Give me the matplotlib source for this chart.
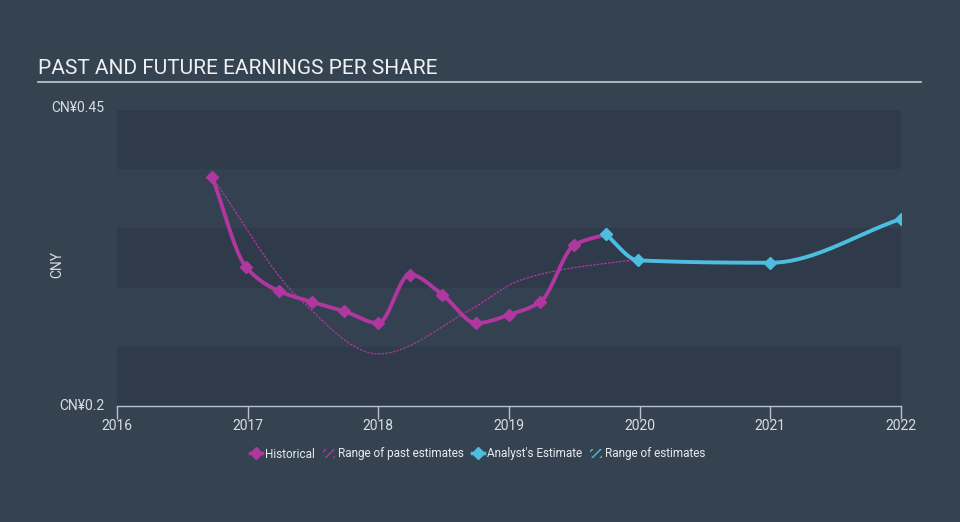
import numpy as np
import matplotlib
matplotlib.use("Agg")
import matplotlib.pyplot as plt
from matplotlib.lines import Line2D
from matplotlib.patches import Patch

plt.rcParams['font.family'] = ['Roboto', 'DejaVu Sans']
plt.rcParams['hatch.linewidth'] = 1.0

# data
hist_x = [2016.73, 2016.99, 2017.24, 2017.49, 2017.74, 2018.0, 2018.24,
          2018.49, 2018.75, 2019.0, 2019.24, 2019.5, 2019.74]
hist_y = [0.393, 0.317, 0.297, 0.288, 0.280, 0.270, 0.311,
          0.294, 0.270, 0.277, 0.288, 0.336, 0.345]
est_x = [2019.74, 2019.99, 2021.0, 2022.0]
est_y = [0.345, 0.323, 0.321, 0.358]
past_x = [2016.73, 2017.4, 2018.0, 2018.7, 2019.08, 2019.4, 2020.0]
past_y = [0.393, 0.290, 0.244, 0.281, 0.306, 0.315, 0.324]

x_ticks = [2016, 2017, 2018, 2019, 2020, 2021, 2022]

BG = '#354350'
MAG = '#b0379f'
CYAN = '#4dbde0'
TXT = '#d8dde3'


def smooth(x, y, n=40):
    # monotone cubic (Fritsch-Carlson) just for drawing the curve
    x = np.asarray(x, float)
    y = np.asarray(y, float)
    h = np.diff(x)
    d = np.diff(y) / h
    m = np.zeros_like(y)
    m[0], m[-1] = d[0], d[-1]
    for i in range(1, len(y) - 1):
        if d[i - 1] * d[i] <= 0:
            m[i] = 0
        else:
            w1 = 2 * h[i] + h[i - 1]
            w2 = h[i] + 2 * h[i - 1]
            m[i] = (w1 + w2) / (w1 / d[i - 1] + w2 / d[i])
    xs, ys = [], []
    for i in range(len(h)):
        t = np.linspace(0, 1, n)
        h00 = 2 * t**3 - 3 * t**2 + 1
        h10 = t**3 - 2 * t**2 + t
        h01 = -2 * t**3 + 3 * t**2
        h11 = t**3 - t**2
        xs.append(x[i] + t * h[i])
        ys.append(h00 * y[i] + h10 * h[i] * m[i] + h01 * y[i + 1] + h11 * h[i] * m[i + 1])
    return np.concatenate(xs), np.concatenate(ys)


fig = plt.figure(figsize=(9.6, 5.22), dpi=100)
fig.patch.set_facecolor(BG)
ax = fig.add_axes([117 / 960, 1 - 406 / 522, 784 / 960, 296 / 522])
ax.set_facecolor('#2f3c4b')
ax.set_xlim(2016, 2022)
ax.set_ylim(0.2, 0.45)

# alternating bands
for i, lo in enumerate(np.arange(0.2, 0.45, 0.05)):
    c = '#2f3b4a' if i % 2 == 0 else '#334151'
    ax.axhspan(lo, lo + 0.05, color=c, lw=0, zorder=0)

px, py = smooth(past_x, past_y)
ax.plot(px, py, color=MAG, lw=0.9, ls=(0, (2, 1)), zorder=2)

hx, hy = smooth(hist_x, hist_y)
ax.plot(hx, hy, color=MAG, lw=2.8, solid_capstyle='round', zorder=3)
ax.plot(hist_x, hist_y, ls='none', marker='D', ms=6, color=MAG, zorder=4)

ex, ey = smooth(est_x, est_y)
ax.plot(ex, ey, color=CYAN, lw=2.8, solid_capstyle='round', zorder=3)
ax.plot(est_x, est_y, ls='none', marker='D', ms=6, color=CYAN, zorder=5)

for s in ['top', 'right', 'left']:
    ax.spines[s].set_visible(False)
ax.spines['bottom'].set_color('#b8c2cc')
ax.spines['bottom'].set_linewidth(1)
ax.set_xticks(x_ticks)
ax.set_xticklabels([str(v) for v in x_ticks])
ax.tick_params(axis='x', colors='#b8c2cc', length=9, width=1, labelsize=10,
               labelcolor=TXT, pad=0)
ax.set_yticks([])

fig.text(104 / 960, 1 - 108 / 522, 'CN¥0.45', color=TXT, fontsize=10, ha='right', va='center')
fig.text(104 / 960, 1 - 406 / 522, 'CN¥0.2', color=TXT, fontsize=10, ha='right', va='center')
fig.text(57 / 960, 1 - 264 / 522, 'CNY', color=TXT, fontsize=10, rotation=90, ha='center', va='center')

fig.text(38 / 960, 1 - 68 / 522, 'PAST AND FUTURE EARNINGS PER SHARE', color='#eef1f4',
         fontsize=15, ha='left', va='center')
fig.add_artist(Line2D([38 / 960, 921 / 960], [1 - 82 / 522, 1 - 82 / 522],
                      color='#c5ccd3', lw=1.2))

handles = [
    Line2D([], [], color=MAG, lw=2.5, marker='D', ms=6),
    Patch(facecolor='none', edgecolor=MAG, hatch='////', lw=0),
    Line2D([], [], color=CYAN, lw=2.5, marker='D', ms=6),
    Patch(facecolor='none', edgecolor=CYAN, hatch='////', lw=0),
]
labels = ['Historical', 'Range of past estimates', "Analyst's Estimate", 'Range of estimates']
leg = fig.legend(handles, labels, loc='center', bbox_to_anchor=(478 / 960, 1 - 454 / 522),
                 ncol=4, frameon=False, fontsize=8.5, labelcolor='#e6eaee',
                 handlelength=1.0, handletextpad=0.25, columnspacing=0.7,
                 handleheight=0.8)

fig.savefig('out.png', dpi=100, facecolor=BG)
